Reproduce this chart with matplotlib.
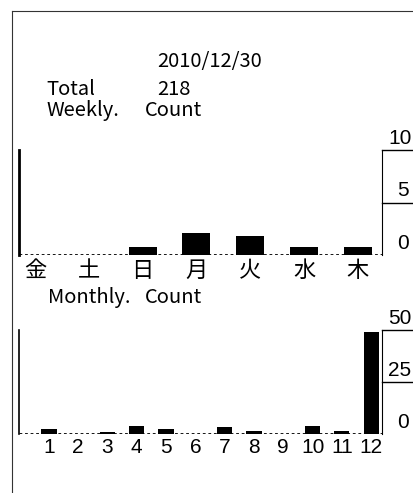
import matplotlib
matplotlib.use("Agg")
import matplotlib.pyplot as plt
from matplotlib.lines import Line2D

plt.rcParams['font.family'] = ['Noto Sans CJK JP', 'DejaVu Sans']

# weekly counts, Friday first
week_days = ['金', '土', '日', '月', '火', '水', '木']
week_counts = [0, 0, 0.8, 2.1, 1.85, 0.8, 0.8]
week_ticks = [10, 5]

# monthly counts
months = ['1', '2', '3', '4', '5', '6', '7', '8', '9', '10', '11', '12']
month_counts = [2.2, 0, 1.1, 3.7, 2.2, 0, 3.2, 1.6, 0, 3.7, 1.6, 48.9]
month_ticks = [50, 25]

date_label = '2010/12/30'
total_count = 218

W, H = 414, 493


def fx(px):
    return px / W


def fy(py):
    return 1 - py / H


fig = plt.figure(figsize=(W / 100, H / 100), dpi=100)

# outer frame (top and left edges only)
fig.add_artist(Line2D([fx(12), 1], [fy(11), fy(11)], color='#333333', lw=0.8))
fig.add_artist(Line2D([fx(12), fx(12)], [fy(11), 0], color='#333333', lw=0.8))

fig.text(fx(157), fy(67), date_label, fontsize=14.5, va='baseline')
fig.text(fx(46), fy(95), 'Total', fontsize=14.5, va='baseline')
fig.text(fx(157), fy(95), str(total_count), fontsize=14.5, va='baseline')
fig.text(fx(46), fy(116), 'Weekly.', fontsize=14.5, va='baseline')
fig.text(fx(145), fy(116), 'Count', fontsize=14.5, va='baseline')
fig.text(fx(48), fy(303), 'Monthly.', fontsize=14.5, va='baseline')
fig.text(fx(145), fy(303), 'Count', fontsize=14.5, va='baseline')


def draw_panel(ax, labels, values, ticks, ymax, left_lw, label_font, label_size):
    x = list(range(len(labels)))
    ax.bar(x, values, width=0.52, color='black', zorder=3)
    ax.axhline(0, color='black', lw=2.0, dashes=(1, 1), zorder=2)
    ax.set_ylim(0, ymax)
    for side in ['top', 'bottom', 'right']:
        ax.spines[side].set_visible(False)
    ax.spines['left'].set_linewidth(left_lw)
    ax.set_yticks([])
    ax.set_xticks(x)
    ax.set_xticklabels(labels, fontsize=label_size, family=label_font)
    ax.tick_params(axis='x', length=0, pad=3)

    # right-hand scale: vertical rule plus underlined values
    trans = ax.get_yaxis_transform()
    ax.plot([1, 1], [0, ymax], color='black', lw=0.8,
            transform=trans, clip_on=False)
    for t in ticks:
        ax.plot([1, 1.1], [t, t], color='black', lw=1.0,
                transform=trans, clip_on=False)
    for t in ticks + [0]:
        ax.annotate(str(t), xy=(1, t), xycoords=trans,
                    xytext=(15 if t < 10 else 6, 2), textcoords='offset pixels',
                    ha='left', va='bottom', fontsize=15,
                    family='Liberation Sans', annotation_clip=False)


ax_w = fig.add_axes([fx(19), fy(255), fx(382) - fx(19), fy(150) - fy(255)])
draw_panel(ax_w, week_days, week_counts, week_ticks, 10, 2.0,
           'Noto Sans CJK JP', 16)
ax_w.set_xlim(-0.30, 6.45)

ax_m = fig.add_axes([fx(19), fy(434), fx(382) - fx(19), fy(330) - fy(434)])
draw_panel(ax_m, months, month_counts, month_ticks, 50, 1.2,
           'Liberation Sans', 15)
ax_m.set_xlim(-1.02, 11.37)

fig.savefig('out.png', dpi=100)
